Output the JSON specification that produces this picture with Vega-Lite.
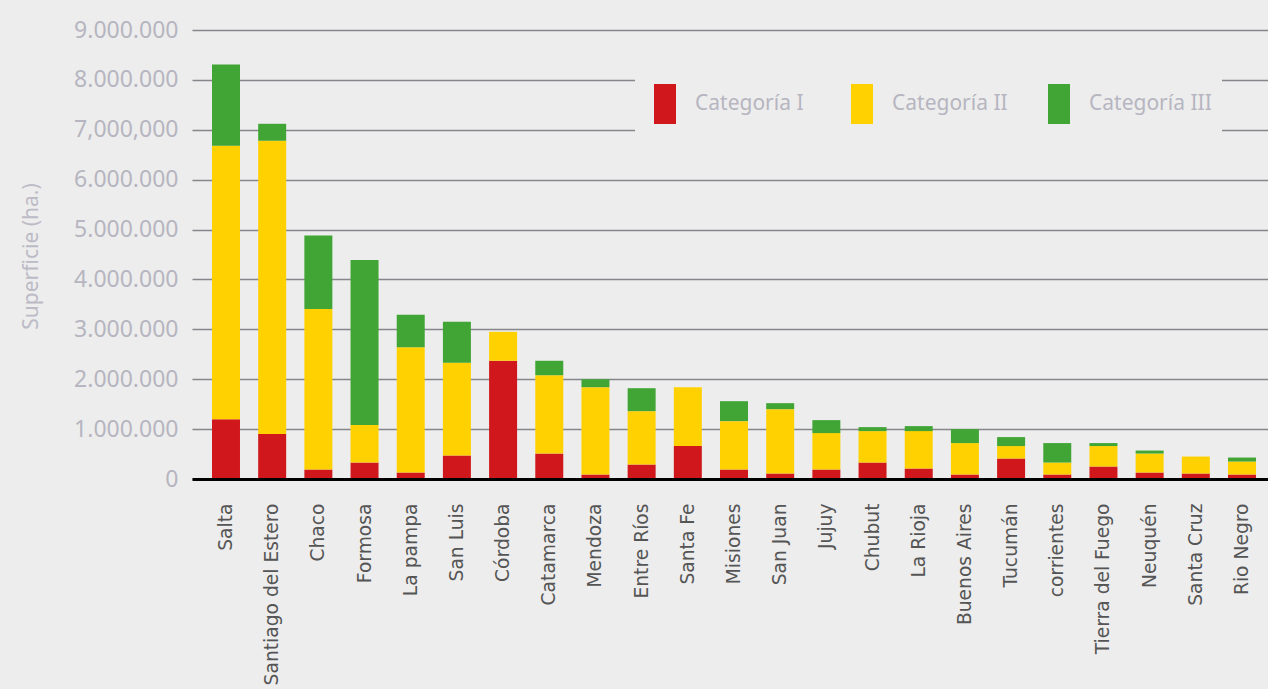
{
  "$schema": "https://vega.github.io/schema/vega-lite/v6.json",
  "autosize": {"type": "none"},
  "padding": {"left": 192, "top": 30, "right": 0, "bottom": 210},
  "width": 1076,
  "height": 449,
  "background": "#ededed",
  "config": {
    "view": {"stroke": null},
    "locale": {"number": {"decimal": ",", "thousands": ".", "grouping": [3], "currency": ["", ""]}}
  },
  "data": {
    "values": [
      {"provincia": "Salta", "categoria": "Categoría I", "superficie": 1200000},
      {"provincia": "Salta", "categoria": "Categoría II", "superficie": 5480000},
      {"provincia": "Salta", "categoria": "Categoría III", "superficie": 1630000},
      {"provincia": "Santiago del Estero", "categoria": "Categoría I", "superficie": 900000},
      {"provincia": "Santiago del Estero", "categoria": "Categoría II", "superficie": 5880000},
      {"provincia": "Santiago del Estero", "categoria": "Categoría III", "superficie": 340000},
      {"provincia": "Chaco", "categoria": "Categoría I", "superficie": 190000},
      {"provincia": "Chaco", "categoria": "Categoría II", "superficie": 3220000},
      {"provincia": "Chaco", "categoria": "Categoría III", "superficie": 1470000},
      {"provincia": "Formosa", "categoria": "Categoría I", "superficie": 330000},
      {"provincia": "Formosa", "categoria": "Categoría II", "superficie": 750000},
      {"provincia": "Formosa", "categoria": "Categoría III", "superficie": 3310000},
      {"provincia": "La pampa", "categoria": "Categoría I", "superficie": 130000},
      {"provincia": "La pampa", "categoria": "Categoría II", "superficie": 2510000},
      {"provincia": "La pampa", "categoria": "Categoría III", "superficie": 650000},
      {"provincia": "San Luis", "categoria": "Categoría I", "superficie": 470000},
      {"provincia": "San Luis", "categoria": "Categoría II", "superficie": 1860000},
      {"provincia": "San Luis", "categoria": "Categoría III", "superficie": 820000},
      {"provincia": "Córdoba", "categoria": "Categoría I", "superficie": 2370000},
      {"provincia": "Córdoba", "categoria": "Categoría II", "superficie": 580000},
      {"provincia": "Córdoba", "categoria": "Categoría III", "superficie": 0},
      {"provincia": "Catamarca", "categoria": "Categoría I", "superficie": 510000},
      {"provincia": "Catamarca", "categoria": "Categoría II", "superficie": 1570000},
      {"provincia": "Catamarca", "categoria": "Categoría III", "superficie": 290000},
      {"provincia": "Mendoza", "categoria": "Categoría I", "superficie": 90000},
      {"provincia": "Mendoza", "categoria": "Categoría II", "superficie": 1750000},
      {"provincia": "Mendoza", "categoria": "Categoría III", "superficie": 160000},
      {"provincia": "Entre Ríos", "categoria": "Categoría I", "superficie": 290000},
      {"provincia": "Entre Ríos", "categoria": "Categoría II", "superficie": 1070000},
      {"provincia": "Entre Ríos", "categoria": "Categoría III", "superficie": 460000},
      {"provincia": "Santa Fe", "categoria": "Categoría I", "superficie": 660000},
      {"provincia": "Santa Fe", "categoria": "Categoría II", "superficie": 1180000},
      {"provincia": "Santa Fe", "categoria": "Categoría III", "superficie": 0},
      {"provincia": "Misiones", "categoria": "Categoría I", "superficie": 190000},
      {"provincia": "Misiones", "categoria": "Categoría II", "superficie": 970000},
      {"provincia": "Misiones", "categoria": "Categoría III", "superficie": 400000},
      {"provincia": "San Juan", "categoria": "Categoría I", "superficie": 110000},
      {"provincia": "San Juan", "categoria": "Categoría II", "superficie": 1290000},
      {"provincia": "San Juan", "categoria": "Categoría III", "superficie": 120000},
      {"provincia": "Jujuy", "categoria": "Categoría I", "superficie": 190000},
      {"provincia": "Jujuy", "categoria": "Categoría II", "superficie": 730000},
      {"provincia": "Jujuy", "categoria": "Categoría III", "superficie": 260000},
      {"provincia": "Chubut", "categoria": "Categoría I", "superficie": 330000},
      {"provincia": "Chubut", "categoria": "Categoría II", "superficie": 630000},
      {"provincia": "Chubut", "categoria": "Categoría III", "superficie": 80000},
      {"provincia": "La Rioja", "categoria": "Categoría I", "superficie": 210000},
      {"provincia": "La Rioja", "categoria": "Categoría II", "superficie": 750000},
      {"provincia": "La Rioja", "categoria": "Categoría III", "superficie": 100000},
      {"provincia": "Buenos Aires", "categoria": "Categoría I", "superficie": 90000},
      {"provincia": "Buenos Aires", "categoria": "Categoría II", "superficie": 630000},
      {"provincia": "Buenos Aires", "categoria": "Categoría III", "superficie": 280000},
      {"provincia": "Tucumán", "categoria": "Categoría I", "superficie": 410000},
      {"provincia": "Tucumán", "categoria": "Categoría II", "superficie": 250000},
      {"provincia": "Tucumán", "categoria": "Categoría III", "superficie": 180000},
      {"provincia": "corrientes", "categoria": "Categoría I", "superficie": 90000},
      {"provincia": "corrientes", "categoria": "Categoría II", "superficie": 240000},
      {"provincia": "corrientes", "categoria": "Categoría III", "superficie": 390000},
      {"provincia": "Tierra del Fuego", "categoria": "Categoría I", "superficie": 250000},
      {"provincia": "Tierra del Fuego", "categoria": "Categoría II", "superficie": 410000},
      {"provincia": "Tierra del Fuego", "categoria": "Categoría III", "superficie": 60000},
      {"provincia": "Neuquén", "categoria": "Categoría I", "superficie": 130000},
      {"provincia": "Neuquén", "categoria": "Categoría II", "superficie": 380000},
      {"provincia": "Neuquén", "categoria": "Categoría III", "superficie": 60000},
      {"provincia": "Santa Cruz", "categoria": "Categoría I", "superficie": 110000},
      {"provincia": "Santa Cruz", "categoria": "Categoría II", "superficie": 340000},
      {"provincia": "Santa Cruz", "categoria": "Categoría III", "superficie": 0},
      {"provincia": "Rio Negro", "categoria": "Categoría I", "superficie": 90000},
      {"provincia": "Rio Negro", "categoria": "Categoría II", "superficie": 260000},
      {"provincia": "Rio Negro", "categoria": "Categoría III", "superficie": 80000}
    ]
  },
  "mark": {"type": "bar"},
  "encoding": {
    "x": {
      "field": "provincia",
      "type": "nominal",
      "sort": null,
      "scale": {"paddingInner": 0.394, "paddingOuter": 0.3465, "align": 0.625},
      "axis": {
        "title": null,
        "labelAngle": -90,
        "labelFont": "DejaVu Sans",
        "labelFontSize": 18.7,
        "labelColor": "#555555",
        "labelPadding": 24,
        "labelLimit": 400,
        "ticks": false,
        "domain": true,
        "domainColor": "#000000",
        "domainWidth": 3,
        "zindex": 1
      }
    },
    "y": {
      "field": "superficie",
      "type": "quantitative",
      "stack": "zero",
      "scale": {"domain": [0, 9000000], "nice": false},
      "axis": {
        "title": "Superficie (ha.)",
        "titleFont": "Noto Sans",
        "titleFontSize": 21,
        "titleFontWeight": "normal",
        "titleColor": "#bcbbc6",
        "titleAngle": -90,
        "titleX": -161,
        "titleY": 226,
        "titleAlign": "center",
        "titleBaseline": "middle",
        "values": [0, 1000000, 2000000, 3000000, 4000000, 5000000, 6000000, 7000000, 8000000, 9000000],
        "labelExpr": "datum.value == 7000000 ? '7,000,000' : datum.label",
        "labelFont": "Noto Sans",
        "labelFontSize": 23,
        "labelColor": "#b6b5c0",
        "labelPadding": 14,
        "ticks": false,
        "domain": false,
        "grid": true,
        "gridColor": "#86868d",
        "gridWidth": 1.6
      }
    },
    "color": {
      "field": "categoria",
      "type": "nominal",
      "scale": {
        "domain": ["Categoría I", "Categoría II", "Categoría III"],
        "range": ["#d0181c", "#ffd100", "#40a535"]
      },
      "legend": {
        "title": null,
        "orient": "none",
        "legendX": 443,
        "legendY": 44,
        "direction": "horizontal",
        "columns": 3,
        "gridAlign": "all",
        "columnPadding": 24,
        "padding": 10,
        "fillColor": "#ededed",
        "symbolType": "M-0.55,-1H0.55V1H-0.55Z",
        "symbolSize": 1600,
        "symbolStrokeWidth": 0,
        "symbolOpacity": 1,
        "labelOffset": 10,
        "labelFont": "Noto Sans",
        "labelFontSize": 21,
        "labelColor": "#b6b5c0",
        "labelLimit": 300
      }
    },
    "order": {"field": "categoria", "sort": "ascending"}
  }
}
